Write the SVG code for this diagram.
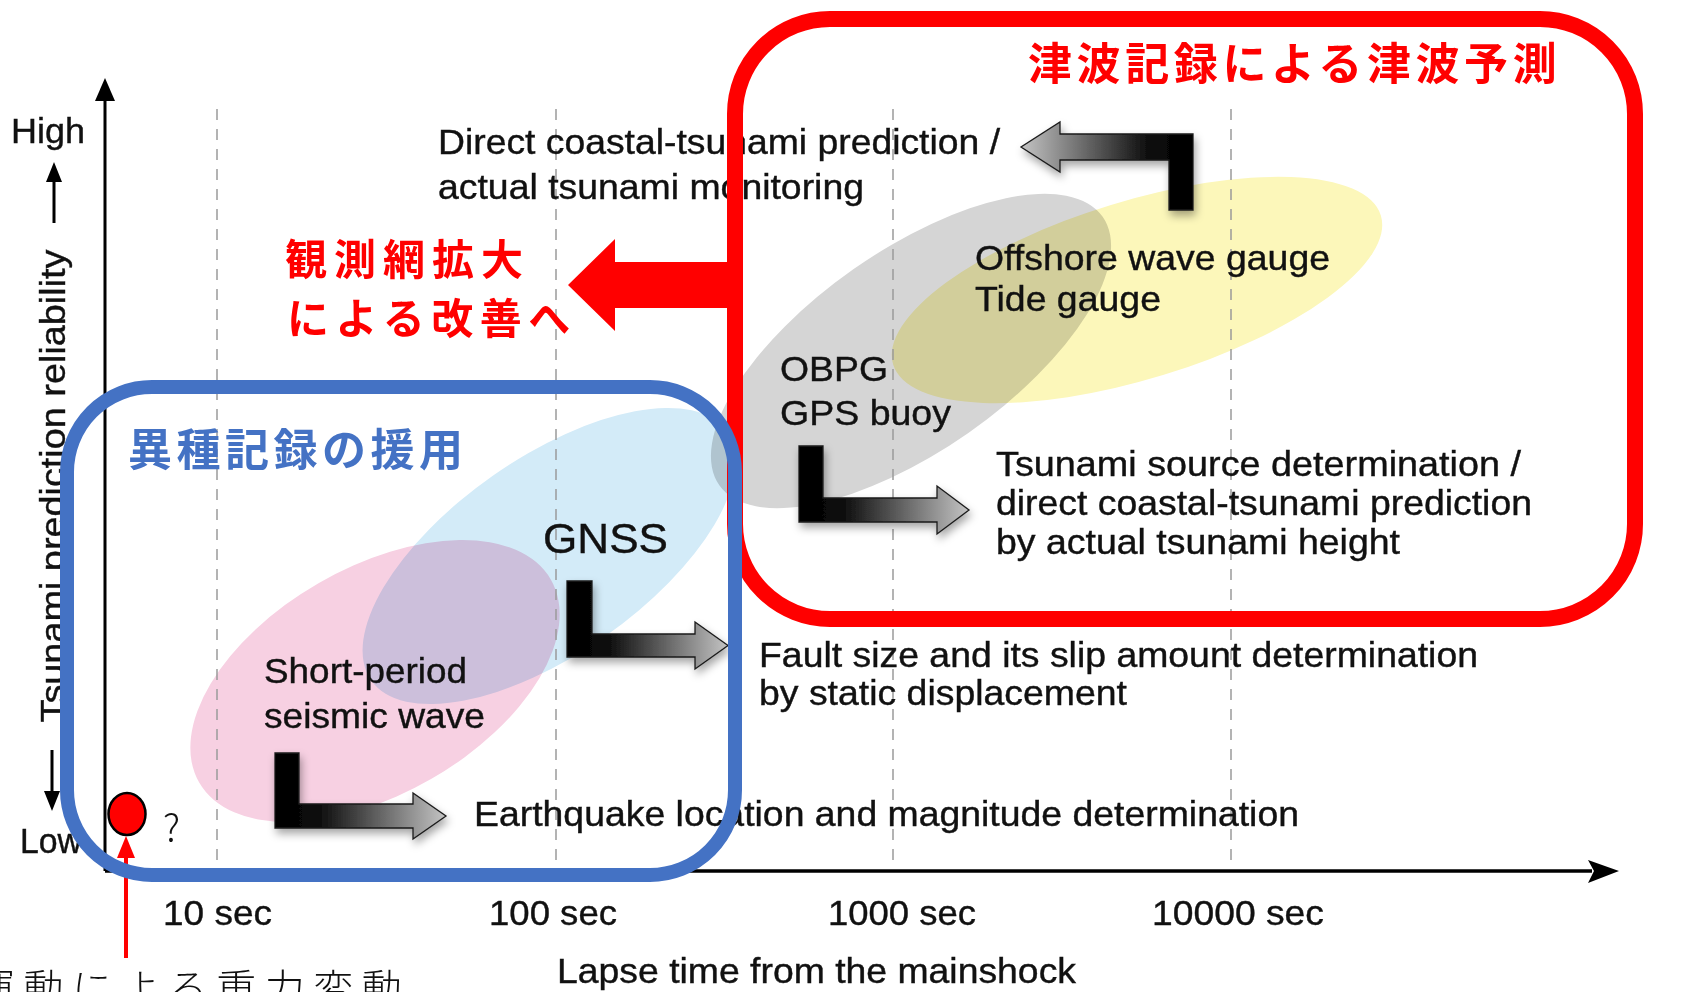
<svg xmlns="http://www.w3.org/2000/svg" width="1704" height="992" viewBox="0 0 1704 992">
<defs>
<style>
.lbl{font-family:"Liberation Sans",Arial,sans-serif;font-size:35px;fill:#111;stroke:#111;stroke-width:0.4}
.jp{font-family:"Noto Sans CJK JP",sans-serif}
.grid{stroke:#9a9a9a;stroke-width:1.5;stroke-dasharray:11 9;fill:none}
.ell{mix-blend-mode:multiply}
.blk{stroke:#1a1a1a;stroke-width:1.3;filter:url(#sh)}
</style>
<linearGradient id="gR" x1="0" y1="0" x2="1" y2="0">
<stop offset="0" stop-color="#000"/><stop offset="0.25" stop-color="#0b0b0b"/><stop offset="1" stop-color="#c4c4c4"/>
</linearGradient>
<linearGradient id="gL" x1="1" y1="0" x2="0" y2="0">
<stop offset="0" stop-color="#000"/><stop offset="0.25" stop-color="#0b0b0b"/><stop offset="1" stop-color="#c4c4c4"/>
</linearGradient>
<filter id="sh" x="-20%" y="-30%" width="150%" height="170%">
<feDropShadow dx="2" dy="5" stdDeviation="4" flood-color="#000" flood-opacity="0.35"/>
</filter>
</defs>
<rect width="1704" height="992" fill="#fff"/>

<g id="ellipses">
<ellipse class="ell" cx="375" cy="681" rx="203" ry="113" transform="rotate(-30 375 681)" fill="#F7D0E2"/>
<ellipse class="ell" cx="549" cy="556" rx="217" ry="98" transform="rotate(-35 549 556)" fill="#D3EBF8"/>
<ellipse class="ell" cx="911" cy="351" rx="234" ry="100" transform="rotate(-35 911 351)" fill="#D5D5D5"/>
<ellipse class="ell" cx="1137" cy="290" rx="255" ry="89" transform="rotate(-17 1137 290)" fill="#FCF7BA"/>
</g>

<g id="grid">
<line class="grid" x1="217" y1="109" x2="217" y2="869"/>
<line class="grid" x1="556" y1="109" x2="556" y2="869"/>
<line class="grid" x1="893" y1="109" x2="893" y2="869"/>
<line class="grid" x1="1231" y1="109" x2="1231" y2="869"/>
</g>

<g id="axes">
<line x1="105" y1="871" x2="105" y2="98" stroke="#000" stroke-width="3"/>
<path d="M105,78 L95,101 L115,101 Z" fill="#000"/>
<line x1="105" y1="871" x2="1592" y2="871" stroke="#000" stroke-width="3.5"/>
<path d="M1619,871 L1588,860 L1594,871 L1588,883 Z" fill="#000"/>
<text class="lbl" x="11" y="143" textLength="74" lengthAdjust="spacingAndGlyphs">High</text>
<line x1="54" y1="223" x2="54" y2="178" stroke="#000" stroke-width="3"/>
<path d="M54,162 L46,182 L62,182 Z" fill="#000"/>
<text class="lbl" transform="translate(65,486) rotate(-90)" text-anchor="middle" textLength="473" lengthAdjust="spacingAndGlyphs">Tsunami prediction reliability</text>
<line x1="52" y1="750" x2="52" y2="795" stroke="#000" stroke-width="3"/>
<path d="M52,811 L44,791 L60,791 Z" fill="#000"/>
<text class="lbl" x="20" y="853" textLength="62" lengthAdjust="spacingAndGlyphs">Low</text>
<text class="lbl" x="163" y="925" textLength="109" lengthAdjust="spacingAndGlyphs">10 sec</text>
<text class="lbl" x="489" y="925" textLength="128" lengthAdjust="spacingAndGlyphs">100 sec</text>
<text class="lbl" x="828" y="925" textLength="148" lengthAdjust="spacingAndGlyphs">1000 sec</text>
<text class="lbl" x="1152" y="925" textLength="172" lengthAdjust="spacingAndGlyphs">10000 sec</text>
<text class="lbl" x="557" y="983" textLength="519" lengthAdjust="spacingAndGlyphs">Lapse time from the mainshock</text>
</g>

<g id="node-offshore">
<text class="lbl" x="975" y="270" textLength="355" lengthAdjust="spacingAndGlyphs">Offshore wave gauge</text>
<text class="lbl" x="975" y="311" textLength="186" lengthAdjust="spacingAndGlyphs">Tide gauge</text>
</g>
<g id="node-obpg">
<text class="lbl" x="780" y="381" textLength="108" lengthAdjust="spacingAndGlyphs">OBPG</text>
<text class="lbl" x="780" y="425" textLength="171" lengthAdjust="spacingAndGlyphs">GPS buoy</text>
</g>
<g id="node-gnss">
<text class="lbl" x="543" y="553" style="font-size:43px" textLength="125" lengthAdjust="spacingAndGlyphs">GNSS</text>
</g>
<g id="node-seismic">
<text class="lbl" x="264" y="683" textLength="203" lengthAdjust="spacingAndGlyphs">Short-period</text>
<text class="lbl" x="264" y="728" textLength="221" lengthAdjust="spacingAndGlyphs">seismic wave</text>
</g>

<g id="node-direct">
<text class="lbl" x="438" y="154" textLength="562" lengthAdjust="spacingAndGlyphs">Direct coastal-tsunami prediction /</text>
<text class="lbl" x="438" y="199" textLength="426" lengthAdjust="spacingAndGlyphs">actual tsunami monitoring</text>
</g>
<g id="node-source">
<text class="lbl" x="996" y="476" textLength="525" lengthAdjust="spacingAndGlyphs">Tsunami source determination /</text>
<text class="lbl" x="996" y="515" textLength="536" lengthAdjust="spacingAndGlyphs">direct coastal-tsunami prediction</text>
<text class="lbl" x="996" y="554" textLength="404" lengthAdjust="spacingAndGlyphs">by actual tsunami height</text>
</g>
<g id="node-fault">
<text class="lbl" x="759" y="667" textLength="719" lengthAdjust="spacingAndGlyphs">Fault size and its slip amount determination</text>
<text class="lbl" x="759" y="705" textLength="368" lengthAdjust="spacingAndGlyphs">by static displacement</text>
</g>
<g id="node-eq">
<text class="lbl" x="474" y="826" textLength="825" lengthAdjust="spacingAndGlyphs">Earthquake location and magnitude determination</text>
</g>

<g id="connectors">
<path class="blk" fill="url(#gL)" d="M1193,134 L1193,210 L1169,210 L1169,160 L1060,160 L1060,172 L1021,147 L1060,122 L1060,134 Z"/>
<path class="blk" fill="url(#gR)" d="M799,446 L823,446 L823,498 L937,498 L937,486 L969,510 L937,534 L937,522 L799,522 Z"/>
<path class="blk" fill="url(#gR)" d="M567,581 L592,581 L592,634 L695,634 L695,622 L728,645.5 L695,669 L695,657 L567,657 Z"/>
<path class="blk" fill="url(#gR)" d="M275,753 L299,753 L299,804 L413,804 L413,793 L446,816 L413,839 L413,828 L275,828 Z"/>
<path d="M735,262 L615,262 L615,239 L568,285 L615,331 L615,308 L735,308 Z" fill="#FF0000"/>
<line x1="126" y1="958" x2="126" y2="852" stroke="#FF0000" stroke-width="4"/>
<path d="M126,836 L117,858 L135,858 Z" fill="#FF0000"/>
</g>

<g id="group-red">
<rect x="735" y="19" width="900" height="600" rx="95" ry="95" fill="none" stroke="#FF0000" stroke-width="16"/>
<text class="jp" x="1028" y="80" style="font-size:44px;font-weight:700;letter-spacing:4.6px" fill="#FF0000">津波記録による津波予測</text>
</g>

<g id="group-blue">
<rect x="67" y="387" width="668" height="488" rx="85" ry="85" fill="none" stroke="#4472C4" stroke-width="14"/>
<text class="jp" x="128" y="466" style="font-size:44px;font-weight:700;letter-spacing:4.5px" fill="#4472C4">異種記録の援用</text>
</g>

<g id="node-improve">
<text class="jp" x="285" y="275" style="font-size:42px;font-weight:700;letter-spacing:7px" fill="#FF0000">観測網拡大</text>
<text class="jp" x="287" y="334" style="font-size:42px;font-weight:700;letter-spacing:6.5px" fill="#FF0000">による改善へ</text>
</g>

<g id="node-gravity">
<ellipse cx="127" cy="814" rx="18.5" ry="21" fill="#FF0000" stroke="#000" stroke-width="2.5"/>
<text class="jp" x="163" y="842" style="font-size:38px;font-weight:300" fill="#111">?</text>
<text class="jp" x="-25" y="1003" style="font-size:40px;font-weight:300;letter-spacing:8.5px" fill="#111">運動による重力変動</text>
</g>
</svg>
